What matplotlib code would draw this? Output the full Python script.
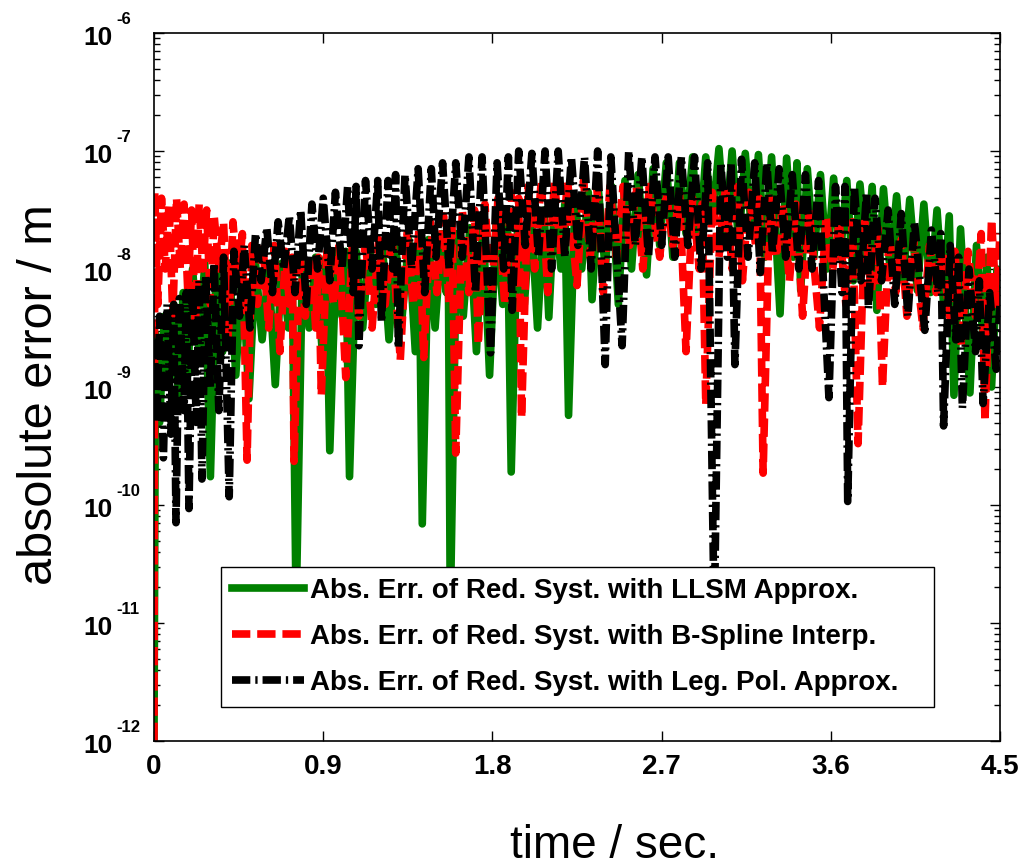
import numpy as np
import matplotlib
matplotlib.use("Agg")
import matplotlib.pyplot as plt
from matplotlib.ticker import FixedLocator, FixedFormatter, LogLocator, NullFormatter
from matplotlib.transforms import offset_copy

plt.rcParams.update({"font.family": ["Liberation Sans", "DejaVu Sans"]})

# ---------------- data: (time / s, log10 of absolute error / m) ----------------
llsm = [
    (0.000, -12.0), (0.008, -8.55), (0.030, -9.30), (0.055, -8.40), (0.080, -9.00),
    (0.105, -8.30), (0.130, -9.10), (0.155, -8.20), (0.180, -8.90), (0.205, -8.00),
    (0.240, -8.70), (0.270, -7.95), (0.300, -9.76), (0.330, -8.00), (0.365, -8.70),
    (0.400, -7.95), (0.435, -8.90), (0.470, -8.00), (0.505, -9.10), (0.540, -7.95),
    (0.575, -8.60), (0.610, -8.00), (0.645, -8.98), (0.680, -7.95), (0.715, -8.50),
    (0.735, -7.95), (0.756, -10.9), (0.790, -7.90), (0.825, -8.50), (0.860, -7.90),
    (0.895, -8.70), (0.915, -7.90), (0.935, -9.54), (0.970, -7.85), (1.000, -8.40),
    (1.020, -7.85), (1.040, -9.76), (1.075, -7.85), (1.110, -8.50), (1.145, -7.80),
    (1.180, -8.30), (1.215, -7.80), (1.250, -8.60), (1.285, -7.80), (1.320, -8.40),
    (1.355, -7.75), (1.390, -8.70), (1.410, -7.75), (1.427, -10.16), (1.460, -7.75),
    (1.495, -8.50), (1.530, -7.70), (1.555, -8.20), (1.565, -7.75), (1.576, -10.9),
    (1.610, -7.70), (1.645, -8.40), (1.680, -7.65), (1.715, -8.70), (1.750, -7.60),
    (1.785, -8.90), (1.820, -7.60), (1.855, -8.30), (1.880, -7.60), (1.900, -9.72),
    (1.935, -7.55), (1.970, -8.30), (2.005, -7.50), (2.040, -8.50), (2.075, -7.50),
    (2.100, -8.41), (2.130, -7.45), (2.165, -8.00), (2.185, -7.45), (2.205, -9.24),
    (2.240, -7.40), (2.275, -8.00), (2.310, -7.35), (2.330, -8.26), (2.365, -7.35),
    (2.400, -8.00), (2.435, -7.30), (2.470, -8.30), (2.505, -7.25), (2.540, -8.00),
    (2.575, -7.20), (2.620, -8.05), (2.655, -7.15), (2.690, -7.80), (2.725, -7.10),
    (2.760, -7.90), (2.795, -7.10), (2.830, -7.70), (2.865, -7.05), (2.900, -7.80),
    (2.935, -7.05), (2.970, -7.60), (3.005, -6.98), (3.040, -7.70), (3.075, -7.00),
    (3.110, -7.80), (3.145, -7.02), (3.180, -7.70), (3.215, -7.03), (3.250, -7.90),
    (3.285, -7.05), (3.330, -8.38), (3.365, -7.06), (3.400, -7.90), (3.420, -7.10),
    (3.440, -8.18), (3.475, -7.15), (3.510, -7.90), (3.545, -7.20), (3.580, -8.00),
    (3.615, -7.23), (3.650, -7.90), (3.685, -7.25), (3.720, -8.10), (3.755, -7.28),
    (3.790, -7.90), (3.820, -7.30), (3.845, -8.35), (3.880, -7.32), (3.915, -8.00),
    (3.950, -7.38), (3.985, -8.10), (4.020, -7.41), (4.060, -8.18), (4.095, -7.45),
    (4.130, -8.20), (4.165, -7.50), (4.200, -8.30), (4.230, -7.55), (4.255, -9.07),
    (4.290, -7.66), (4.340, -9.05), (4.375, -7.80), (4.410, -8.60), (4.430, -7.90),
    (4.455, -9.00), (4.485, -8.00), (4.500, -8.30),
]

bspline = [
    (0.000, -12.0), (0.004, -7.35), (0.020, -8.30), (0.040, -7.40), (0.060, -8.00),
    (0.080, -7.45), (0.100, -8.40), (0.120, -7.40), (0.140, -8.00), (0.160, -7.45),
    (0.180, -8.20), (0.200, -7.50), (0.220, -8.50), (0.240, -7.45), (0.260, -8.00),
    (0.280, -7.50), (0.300, -8.30), (0.320, -7.55), (0.345, -8.00), (0.370, -7.60),
    (0.395, -8.60), (0.420, -7.60), (0.445, -8.10), (0.470, -7.70), (0.495, -9.62),
    (0.520, -7.80), (0.550, -8.30), (0.580, -7.80), (0.610, -8.50), (0.640, -7.80),
    (0.670, -8.70), (0.700, -7.85), (0.720, -8.30), (0.735, -7.90), (0.745, -9.63),
    (0.775, -7.85), (0.805, -8.40), (0.835, -7.90), (0.860, -8.50), (0.875, -7.90),
    (0.890, -9.07), (0.920, -7.85), (0.955, -8.30), (0.985, -7.80), (1.020, -8.92),
    (1.055, -7.80), (1.090, -8.40), (1.125, -7.75), (1.160, -8.50), (1.195, -7.75),
    (1.230, -8.30), (1.265, -7.70), (1.310, -8.77), (1.345, -7.70), (1.380, -8.30),
    (1.410, -7.65), (1.435, -8.75), (1.470, -7.60), (1.505, -8.20), (1.540, -7.55),
    (1.570, -8.30), (1.585, -7.60), (1.605, -9.56), (1.640, -7.50), (1.675, -8.20),
    (1.705, -7.50), (1.725, -8.64), (1.760, -7.45), (1.795, -8.20), (1.830, -7.40),
    (1.865, -8.30), (1.900, -7.35), (1.925, -8.00), (1.940, -7.40), (1.955, -9.26),
    (1.990, -7.30), (2.025, -8.00), (2.060, -7.25), (2.095, -8.20), (2.130, -7.25),
    (2.165, -7.90), (2.200, -7.25), (2.250, -8.14), (2.285, -7.25), (2.320, -7.90),
    (2.355, -7.30), (2.390, -8.20), (2.425, -7.30), (2.460, -7.90), (2.495, -7.30),
    (2.530, -7.80), (2.565, -7.30), (2.600, -8.00), (2.635, -7.30), (2.690, -7.90),
    (2.725, -7.35), (2.760, -7.80), (2.795, -7.35), (2.830, -8.70), (2.865, -7.40),
    (2.900, -8.00), (2.915, -7.45), (2.935, -9.15), (2.970, -7.35), (3.005, -7.90),
    (3.040, -7.30), (3.075, -8.00), (3.105, -7.30), (3.130, -8.10), (3.165, -7.35),
    (3.200, -7.80), (3.220, -7.40), (3.240, -9.73), (3.275, -7.40), (3.310, -7.90),
    (3.345, -7.45), (3.380, -8.10), (3.415, -7.45), (3.450, -8.40), (3.485, -7.50),
    (3.540, -8.50), (3.575, -7.55), (3.610, -8.00), (3.645, -7.60), (3.680, -8.30),
    (3.715, -7.60), (3.745, -9.48), (3.780, -7.60), (3.815, -8.20), (3.850, -7.65),
    (3.875, -9.00), (3.910, -7.70), (3.945, -8.20), (3.975, -7.75), (4.005, -8.40),
    (4.040, -7.75), (4.090, -8.50), (4.125, -7.80), (4.160, -8.20), (4.195, -7.85),
    (4.230, -8.40), (4.260, -7.85), (4.295, -8.65), (4.330, -7.85), (4.370, -8.40),
    (4.400, -7.70), (4.420, -9.29), (4.455, -7.58), (4.480, -8.30), (4.500, -7.70),
]

legendre = [
    (0.000, -8.60), (0.015, -9.30), (0.030, -8.40), (0.050, -9.60), (0.070, -8.30),
    (0.090, -9.40), (0.105, -8.30), (0.117, -10.15), (0.135, -8.25), (0.160, -9.20),
    (0.172, -8.20), (0.186, -10.03), (0.205, -8.15), (0.225, -9.30), (0.240, -8.10),
    (0.255, -9.78), (0.275, -8.05), (0.300, -9.00), (0.320, -7.95), (0.345, -9.20),
    (0.370, -7.90), (0.400, -9.93), (0.425, -7.85), (0.455, -8.40), (0.480, -7.80),
    (0.510, -8.50), (0.540, -7.70), (0.570, -8.10), (0.600, -7.65), (0.630, -8.20),
    (0.660, -7.60), (0.690, -8.00), (0.720, -7.55), (0.750, -8.20), (0.780, -7.50),
    (0.810, -8.30), (0.840, -7.45), (0.870, -8.00), (0.900, -7.40), (0.935, -8.10),
    (0.965, -7.35), (1.000, -8.00), (1.030, -7.30), (1.060, -8.20), (1.075, -7.30),
    (1.090, -8.65), (1.125, -7.25), (1.160, -8.00), (1.190, -7.25), (1.210, -8.45),
    (1.245, -7.25), (1.270, -8.00), (1.285, -7.20), (1.300, -8.67), (1.335, -7.20),
    (1.370, -8.00), (1.405, -7.15), (1.440, -8.20), (1.475, -7.15), (1.500, -7.90),
    (1.535, -7.10), (1.570, -8.00), (1.605, -7.10), (1.640, -7.90), (1.675, -7.05),
    (1.710, -8.20), (1.745, -7.05), (1.790, -8.71), (1.825, -7.10), (1.860, -8.00),
    (1.885, -7.05), (1.905, -8.35), (1.940, -7.00), (1.975, -7.80), (2.010, -7.02),
    (2.045, -7.90), (2.080, -7.00), (2.115, -8.00), (2.150, -7.00), (2.185, -7.90),
    (2.220, -7.05), (2.255, -7.80), (2.290, -7.05), (2.325, -8.00), (2.360, -7.00),
    (2.400, -8.81), (2.430, -7.05), (2.490, -8.65), (2.525, -7.00), (2.560, -7.80),
    (2.595, -7.05), (2.630, -7.90), (2.665, -7.05), (2.700, -7.80), (2.735, -7.05),
    (2.770, -7.90), (2.805, -7.05), (2.840, -7.80), (2.875, -7.05), (2.910, -8.00),
    (2.945, -7.10), (2.980, -11.0), (3.015, -7.10), (3.050, -7.90), (3.070, -7.10),
    (3.090, -8.81), (3.125, -7.07), (3.160, -7.90), (3.195, -7.10), (3.225, -8.03),
    (3.260, -7.10), (3.290, -7.87), (3.325, -7.15), (3.360, -7.90), (3.395, -7.20),
    (3.430, -8.00), (3.465, -7.20), (3.500, -8.00), (3.535, -7.25), (3.590, -9.09),
    (3.625, -7.30), (3.660, -8.20), (3.675, -7.30), (3.690, -9.97), (3.725, -7.30),
    (3.760, -8.10), (3.790, -7.35), (3.800, -8.34), (3.835, -7.40), (3.870, -8.10),
    (3.905, -7.50), (3.940, -8.30), (3.975, -7.53), (4.010, -8.40), (4.045, -7.60),
    (4.100, -8.52), (4.135, -7.67), (4.170, -8.20), (4.185, -7.70), (4.200, -9.33),
    (4.235, -7.80), (4.265, -8.60), (4.280, -7.90), (4.300, -9.18), (4.335, -8.00),
    (4.370, -8.70), (4.390, -8.10), (4.410, -9.14), (4.445, -8.20), (4.480, -8.85),
    (4.500, -8.30),
]

labels = ["Abs. Err. of Red. Syst. with LLSM Approx.",
          "Abs. Err. of Red. Syst. with B-Spline Interp.",
          "Abs. Err. of Red. Syst. with Leg. Pol. Approx."]
xtick_vals = [0, 0.9, 1.8, 2.7, 3.6, 4.5]
xtick_text = ["0", "0.9", "1.8", "2.7", "3.6", "4.5"]
ytick_exp = [-12, -11, -10, -9, -8, -7, -6]

# ---------------- figure ----------------
W, H = 1032, 867
fig = plt.figure(figsize=(W / 100, H / 100), dpi=100)
ax_left, ax_right, ax_top, ax_bot = 154, 1000, 33, 741
ax = fig.add_axes([ax_left / W, (H - ax_bot) / H,
                   (ax_right - ax_left) / W, (ax_bot - ax_top) / H])


def xy(series):
    arr = np.array(series)
    return arr[:, 0], 10.0 ** arr[:, 1]


lw = 5.5
ax.plot(*xy(llsm), color="#008000", lw=lw, linestyle="-", label=labels[0])
ax.plot(*xy(bspline), color="#ff0000", lw=lw, linestyle=(0, (2.4, 0.9)),
        label=labels[1])
ax.plot(*xy(legendre), color="black", lw=lw,
        linestyle=(0, (2.4, 0.65, 0.3, 0.65)), label=labels[2])

ax.set_yscale("log")
ax.set_xlim(0, 4.5)
ax.set_ylim(1e-12, 1e-6)

ax.xaxis.set_major_locator(FixedLocator(xtick_vals))
ax.xaxis.set_major_formatter(FixedFormatter(xtick_text))
ax.yaxis.set_major_locator(FixedLocator([10.0 ** e for e in ytick_exp]))
ax.yaxis.set_major_formatter(NullFormatter())
ax.yaxis.set_minor_locator(LogLocator(base=10, subs=np.arange(2, 10), numticks=20))
ax.yaxis.set_minor_formatter(NullFormatter())

ax.tick_params(which="both", direction="in", top=True, right=True, width=1)
ax.tick_params(which="major", length=7)
ax.tick_params(which="minor", length=4)
ax.tick_params(axis="x", labelsize=20, pad=9)
for lab in ax.get_xticklabels():
    lab.set_fontweight("bold")
for sp in ax.spines.values():
    sp.set_linewidth(1.2)

# y tick labels "10" with a raised exponent, MATLAB style
ytr = ax.get_yaxis_transform()
base_tr = offset_copy(ytr, fig=fig, x=-41, y=-5, units="dots")
exp_tr = offset_copy(ytr, fig=fig, x=-38, y=13, units="dots")
for e in ytick_exp:
    ax.text(0, 10.0 ** e, "10", transform=base_tr, ha="right", va="center",
            fontsize=19, fontweight="bold", clip_on=False)
    ax.text(0, 10.0 ** e, "-%d" % (-e), transform=exp_tr, ha="left",
            va="center", fontsize=12, fontweight="bold", clip_on=False)

x0 = (221 - ax_left) / (ax_right - ax_left)
x1 = (934 - ax_left) / (ax_right - ax_left)
y0 = (ax_bot - 707) / (ax_bot - ax_top)
leg = ax.legend(loc="lower left", bbox_to_anchor=(x0, y0, x1 - x0, 0.2),
                mode="expand", borderaxespad=0, fancybox=False, framealpha=1,
                edgecolor="black", prop={"size": 20, "weight": "bold"},
                handlelength=2.6, handletextpad=0.2, borderpad=0.4,
                labelspacing=0.72)
leg.get_frame().set_linewidth(1.0)
leg.set_zorder(10)

fig.text(615 / W, (H - 858) / H, "time / sec.", fontsize=33,
         ha="center", va="baseline")
fig.text(40 / W, (H - 395) / H, "absolute error / m", fontsize=35,
         rotation=90, ha="center", va="center")

fig.savefig("out.png", dpi=100)
